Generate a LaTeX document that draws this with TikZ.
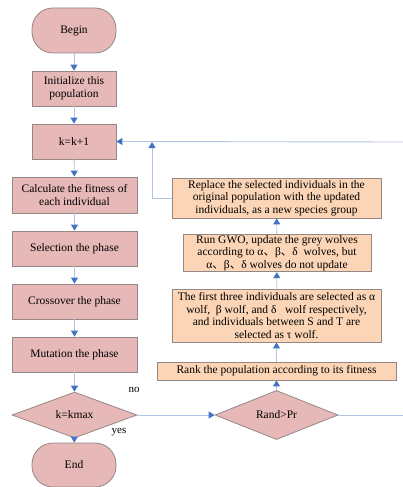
\documentclass[tikz,border=0pt]{standalone}
\usepackage{fontspec}
\setmainfont{Liberation Serif}
\newfontfamily\cjk{Noto Sans CJK SC}
\usetikzlibrary{shapes.geometric,arrows.meta}
\definecolor{pinkfill}{RGB}{230,184,183}
\definecolor{tanfill}{RGB}{251,213,181}
\definecolor{edgegray}{RGB}{150,135,135}
\definecolor{linec}{RGB}{180,196,228}
\definecolor{tipc}{RGB}{68,114,196}
\newcommand{\dun}{{\cjk 、}}
\tikzset{
  base/.style={draw=edgegray, line width=0.8pt, font=\fontsize{11.5}{12.6}\selectfont, align=center, inner sep=1pt},
  pbox/.style={base, rectangle, fill=pinkfill},
  tbox/.style={base, rectangle, fill=tanfill},
  term/.style={base, rectangle, fill=pinkfill, rounded corners=21pt, minimum width=84pt},
  dia/.style={base, diamond, fill=pinkfill, inner sep=0pt},
  conn/.style={draw=linec, line width=0.9pt},
  arr/.style={conn, -{Triangle[length=6pt,width=7pt,fill=tipc,color=tipc]}},
  lbl/.style={font=\fontsize{11}{12}\selectfont, inner sep=0pt},
}
\begin{document}
\begin{tikzpicture}[x=1pt,y=-1pt]
\useasboundingbox (0,0) rectangle (403,487);
% left column
\node[term, minimum height=45pt] (begin) at (74,30.5) {Begin};
\node[pbox, minimum width=84pt, minimum height=35pt] (init) at (74,88.5) {Initialize this\\population};
\node[pbox, minimum width=84pt, minimum height=35pt] (kk) at (74,141.5) {k=k+1};
\node[pbox, minimum width=125pt, minimum height=36pt] (calc) at (74.5,195) {Calculate the fitness of\\each individual};
\node[pbox, minimum width=125pt, minimum height=35pt] (sel) at (74.5,248.5) {Selection the phase};
\node[pbox, minimum width=125pt, minimum height=35pt] (cross) at (74.5,301.5) {Crossover the phase};
\node[pbox, minimum width=125pt, minimum height=35pt] (mut) at (74.5,354.5) {Mutation the phase};
\node[dia, minimum width=125pt, minimum height=34pt] (kmax) at (74.5,415) {k=kmax};
\node[term, minimum height=44pt] (end) at (74,465) {End};
% right column
\node[tbox, minimum width=209pt, minimum height=40pt] (repl) at (276.5,198) {Replace the selected individuals in the\\original population with the updated\\individuals, as a new species group};
\node[tbox, minimum width=188pt, minimum height=36pt] (gwo) at (277,253) {Run GWO, update the grey wolves\\according to α\dun β\dun δ\ \ wolves, but\\α\dun β\dun δ wolves do not update};
\node[tbox, minimum width=209pt, minimum height=53pt] (first) at (276.5,315.5) {The first three individuals are selected as α\\wolf,\ \ β wolf, and δ\ \ \ wolf respectively,\\and individuals between S and T are\\selected as τ wolf.};
\node[tbox, minimum width=239pt, minimum height=18pt] (rank) at (276.5,371) {Rank the population according to its fitness};
\node[dia, minimum width=123pt, minimum height=36pt] (rand) at (276.5,415) {Rand>Pr};
% coordinates
\coordinate (re) at (403,415);
\coordinate (te) at (403,142);
\coordinate (lb) at (152,198);
\coordinate (lt) at (152,142);
% connectors
\draw[arr] (begin) -- (init);
\draw[arr] (init) -- (kk);
\draw[arr] (kk) -- (calc);
\draw[arr] (calc) -- (sel);
\draw[arr] (sel) -- (cross);
\draw[arr] (cross) -- (mut);
\draw[arr] (mut) -- (kmax);
\draw[arr] (kmax) -- (end);
\draw[arr] (kmax) -- (rand);
\draw[arr] (rand) -- (rank);
\draw[arr] (rank) -- (first);
\draw[arr] (first) -- (gwo);
\draw[arr] (gwo) -- (repl);
\draw[conn] (rand.east) -- (re);
\draw[arr] (te) -- (kk.east);
\draw[arr] (repl.west) -- (lb) -- (lt);
% labels
\node[lbl] (no) at (134,390) {no};
\node[lbl] (yes) at (119,432) {yes};
\end{tikzpicture}
\end{document}
